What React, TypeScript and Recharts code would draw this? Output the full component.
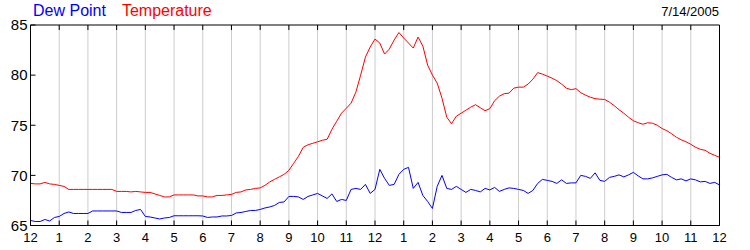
import React from "react"
import { LineChart, Line, XAxis, YAxis, CartesianGrid } from "recharts"

// 10-minute readings, midnight to midnight (145 points)
const temperature = [
  69.2, 69.15, 69.15, 69.3, 69.15, 69.1,
  69.0, 68.9, 68.6, 68.6, 68.6, 68.6,
  68.6, 68.6, 68.6, 68.6, 68.6, 68.6,
  68.4, 68.4, 68.4, 68.35, 68.4, 68.35,
  68.3, 68.3, 68.15, 68.0, 67.85, 67.85,
  68.05, 68.05, 68.05, 68.05, 68.05, 67.95,
  67.95, 67.85, 67.85, 68.0, 68.0, 68.05,
  68.1, 68.3, 68.35, 68.55, 68.6, 68.7,
  68.75, 69.0, 69.35, 69.6, 69.85, 70.1,
  70.5, 71.2, 71.9, 72.8, 73.05, 73.2,
  73.35, 73.5, 73.6, 74.6, 75.4, 76.2,
  76.7, 77.2, 78.3, 80.0, 81.8, 82.8,
  83.6, 83.2, 82.1, 82.6, 83.5, 84.25,
  83.7, 83.2, 82.7, 83.8, 82.9, 81.0,
  80.0, 79.2, 77.7, 75.8, 75.15, 75.9,
  76.2, 76.5, 76.8, 77.05, 76.75, 76.45,
  76.65, 77.45, 77.9, 78.15, 78.2, 78.7,
  78.8, 78.8, 79.1, 79.6, 80.25, 80.1,
  79.9, 79.7, 79.45, 79.1, 78.7, 78.55,
  78.65, 78.25, 78.0, 77.8, 77.65, 77.6,
  77.57, 77.3, 76.95, 76.55, 76.2, 75.8,
  75.45, 75.25, 75.1, 75.25, 75.2, 75.0,
  74.67, 74.45, 74.15, 73.8, 73.55, 73.35,
  73.1, 72.8, 72.6, 72.5, 72.2, 72.0,
  71.8,
]

const dewPoint = [
  65.5, 65.4, 65.4, 65.6, 65.45, 65.8,
  65.9, 66.2, 66.35, 66.2, 66.2, 66.2,
  66.2, 66.45, 66.45, 66.45, 66.45, 66.45,
  66.45, 66.3, 66.3, 66.3, 66.5, 66.6,
  65.9, 65.85, 65.75, 65.65, 65.75, 65.8,
  65.97, 65.97, 65.97, 65.97, 65.97, 65.97,
  65.95, 65.8, 65.85, 65.85, 65.95, 65.95,
  66.0, 66.25, 66.3, 66.4, 66.5, 66.5,
  66.6, 66.75, 66.85, 67.0, 67.3, 67.35,
  67.9, 67.9, 67.85, 67.6, 67.9, 68.05,
  68.2, 67.95, 67.7, 68.15, 67.4, 67.6,
  67.5, 68.6, 68.7, 68.6, 69.1, 68.2,
  68.6, 70.6, 69.7, 69.0, 69.1, 70.1,
  70.6, 70.8, 68.7, 69.3, 68.0, 67.4,
  66.7, 68.9, 70.0, 68.7, 68.6, 68.9,
  68.6, 68.3, 68.6, 68.5, 68.35, 68.7,
  68.55, 68.8, 68.4, 68.6, 68.75, 68.7,
  68.6, 68.5, 68.2, 68.5, 69.2, 69.6,
  69.5, 69.4, 69.2, 69.55, 69.2, 69.25,
  69.25, 70.0, 69.9, 69.7, 70.25, 69.5,
  69.4, 69.8, 69.9, 70.05, 69.85, 70.05,
  70.3, 69.95, 69.65, 69.65, 69.75, 69.9,
  70.05, 70.1, 69.8, 69.55, 69.65, 69.45,
  69.65, 69.55, 69.35, 69.4, 69.2, 69.3,
  69.05,
]

const hourTicks = [0, 1, 2, 3, 4, 5, 6, 7, 8, 9, 10, 11, 12, 13, 14, 15, 16, 17, 18, 19, 20, 21, 22, 23, 24]
const hourLabels = ["12", "1", "2", "3", "4", "5", "6", "7", "8", "9", "10", "11", "12", "1", "2", "3", "4", "5", "6", "7", "8", "9", "10", "11", "12"]
const valueTicks = [65, 70, 75, 80, 85]

const data = temperature.map((t, i) => ({ hour: i / 6, temp: t, dew: dewPoint[i] }))

const font = "Arial, 'Liberation Sans', sans-serif"

export default function App() {
  return (
    <div style={{ position: "absolute", left: 0, top: 0, width: 750, height: 250, background: "#fff", fontFamily: font }}>
      <div style={{ position: "absolute", left: 33, top: 2, fontSize: 16, whiteSpace: "nowrap" }}>
        <span style={{ color: "#0000ff" }}>Dew Point</span>
        <span style={{ color: "#ff0000", marginLeft: 16 }}>Temperature</span>
      </div>
      <div style={{ position: "absolute", right: 31, top: 4, fontSize: 13, color: "#000" }}>7/14/2005</div>
      <LineChart width={750} height={250} data={data} margin={{ top: 20.5, right: 0.5, left: 0.5, bottom: 0 }}>
        <CartesianGrid stroke="#cccccc" horizontalValues={[70, 75, 80]} verticalValues={hourTicks} />
        <XAxis
          dataKey="hour"
          type="number"
          domain={[0, 24]}
          ticks={hourTicks}
          tickFormatter={(v: number) => hourLabels[v]}
          height={24.5}
          tickSize={-5}
          tickMargin={12}
          axisLine={{ stroke: "#000" }}
          tickLine={{ stroke: "#000" }}
          tick={{ fill: "#000", fontSize: 13, fontFamily: font }}
          interval={0}
        />
        <XAxis
          xAxisId="top"
          orientation="top"
          dataKey="hour"
          type="number"
          domain={[0, 24]}
          ticks={hourTicks}
          height={4.5}
          tickSize={-5}
          axisLine={{ stroke: "#000" }}
          tickLine={{ stroke: "#000" }}
          tick={() => <g />}
          interval={0}
        />
        <YAxis
          yAxisId="left"
          domain={[65, 85]}
          ticks={valueTicks}
          width={30}
          tickSize={-5}
          tickMargin={8}
          axisLine={{ stroke: "#000" }}
          tickLine={{ stroke: "#000" }}
          tick={{ fill: "#000", fontSize: 15, fontFamily: font }}
          interval={0}
        />
        <YAxis
          yAxisId="right"
          orientation="right"
          domain={[65, 85]}
          ticks={valueTicks}
          width={30}
          tickSize={-5}
          tickMargin={11}
          axisLine={{ stroke: "#000" }}
          tickLine={{ stroke: "#000" }}
          tick={{ fill: "#000", fontSize: 15, fontFamily: font }}
          interval={0}
        />
        <Line yAxisId="left" type="linear" dataKey="dew" stroke="#0000ff" strokeWidth={1} dot={false} isAnimationActive={false} />
        <Line yAxisId="left" type="linear" dataKey="temp" stroke="#ff0000" strokeWidth={1} dot={false} isAnimationActive={false} />
      </LineChart>
    </div>
  )
}
